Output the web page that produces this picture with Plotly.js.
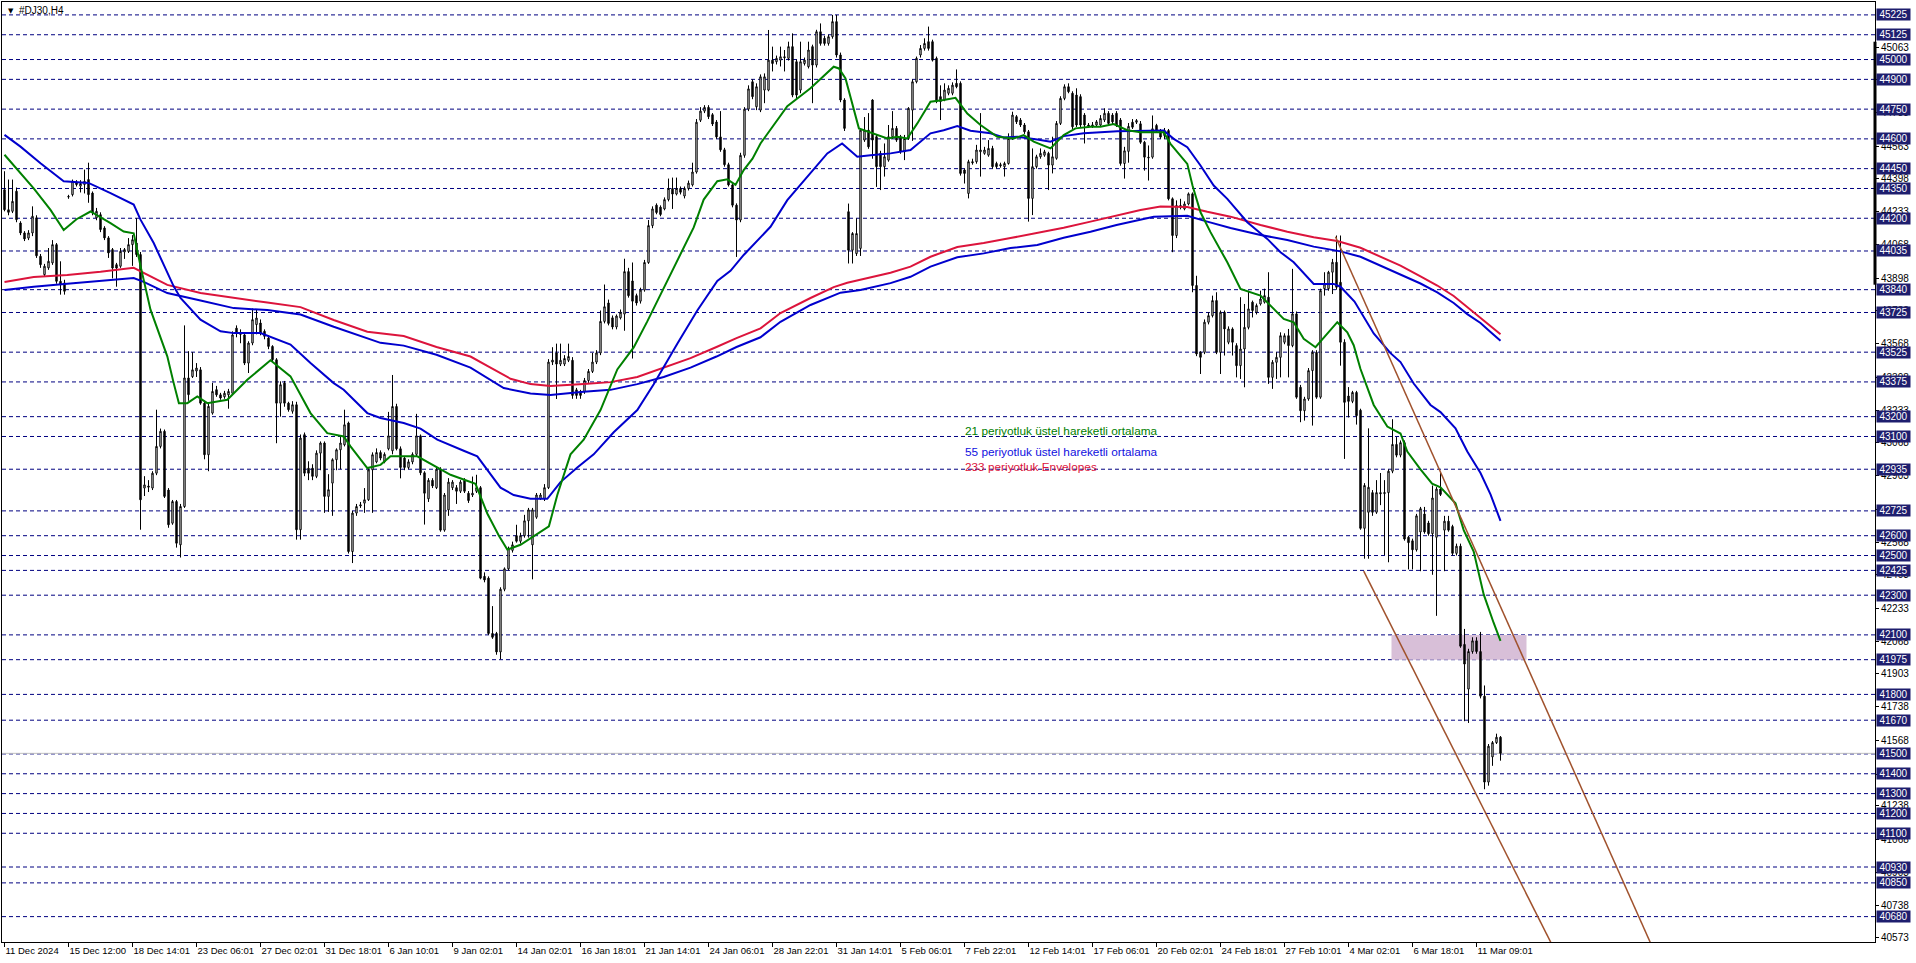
<!DOCTYPE html>
<html><head><meta charset="utf-8">
<script src="https://cdn.plot.ly/plotly-3.0.1.min.js"></script>
<style>html,body{margin:0;padding:0;background:#fff;overflow:hidden}#chart{width:1916px;height:963px}</style>
</head><body><div id="chart"></div>
<script>
const barOpen = [
44344,44243,44235,44336,44176,44126,44100,44126,44202,44008,
43916,43950,43975,44067,43882,43874,44310,44319,44378,44362,
44370,44395,44327,44202,44218,44151,44101,44042,43966,43958,
44030,44033,44067,44075,44017,42840,42850,42840,42915,43050,
43126,42830,42663,42772,42554,42747,43395,43402,43430,43436,
43268,43008,43218,43336,43310,43300,43310,43318,43646,43620,
43612,43470,43571,43664,43672,43630,43596,43554,43487,43268,
43369,43268,43227,43260,42630,43109,42940,42940,42899,43016,
43067,42798,42865,42983,43033,43058,43168,42520,42714,42750,
42764,42781,42932,42972,43019,42972,43038,43028,43251,43038,
42991,42944,42972,43010,43103,42917,42786,42879,42842,42935,
42628,42730,42842,42842,42824,42879,42814,42805,42824,42842,
42395,42386,42107,42107,42014,42330,42433,42526,42600,42572,
42600,42675,42554,42693,42786,42786,42842,43475,43521,43465,
43465,43484,43484,43335,43326,43326,43382,43428,43475,43521,
43680,43773,43698,43652,43698,43717,43931,43884,43810,43782,
43838,43977,44163,44266,44256,44247,44294,44350,44322,44350,
44312,44350,44368,44433,44694,44740,44759,44722,44685,44610,
44545,44470,44368,44266,44191,44517,44750,44888,44762,44745,
44846,44846,44997,44989,44997,45014,45006,45065,44989,44846,
44980,44964,45065,44972,45140,45107,45081,45115,45191,45023,
44796,44233,44039,44022,44048,44594,44644,44796,44611,44527,
44460,44493,44611,44653,44611,44535,44602,44745,44888,45023,
45056,45090,45090,45006,44813,44796,44830,44830,44880,44880,
44443,44325,44485,44485,44535,44527,44518,44552,44476,44470,
44460,44476,44602,44712,44695,44670,44636,44300,44460,44510,
44518,44527,44468,44502,44678,44804,44863,44830,44821,44813,
44720,44670,44665,44670,44670,44695,44729,44720,44729,44695,
44476,44537,44684,44684,44676,44583,44508,44508,44668,44642,
44617,44642,44298,44113,44264,44247,44272,44323,43861,43524,
43524,43676,43709,43785,43524,43726,43575,43642,43558,43457,
43541,43650,43777,43726,43768,43777,43802,43398,43474,43499,
43575,43608,43558,43718,43348,43230,43289,43432,43524,43298,
43845,43845,43928,43978,43877,43575,43304,43277,43322,43232,
42637,42718,42817,42718,42817,42812,42817,42925,43060,43006,
43069,42592,42574,42529,42619,42709,42664,42610,42592,42835,
42628,42673,42646,42511,42547,42052,41827,42016,42070,42016,
41791,41358,41485,41557,41584];
const barHigh = [
44437,44395,44395,44355,44185,44135,44140,44260,44215,44020,
43970,44050,44090,44075,43983,43890,44318,44395,44392,44392,
44445,44480,44335,44252,44230,44160,44110,44050,43975,44050,
44050,44100,44115,44200,44030,42900,42880,42925,43235,43140,
43135,42840,42780,42780,42760,43660,43530,43525,43470,43450,
43280,43265,43370,43355,43320,43330,43340,43630,43660,43640,
43625,43580,43745,43740,43690,43640,43610,43560,43495,43378,
43380,43275,43278,43275,43110,43120,42975,42960,43030,43075,
43075,42910,42990,43040,43100,43235,43175,42725,42760,42770,
42840,42940,43020,43040,43030,43020,43224,43410,43265,43050,
43000,42985,43020,43214,43110,42925,42890,42890,42945,42945,
42815,42890,42880,42855,42880,42890,42825,42898,42907,42850,
42415,42395,42245,42115,42340,42440,42545,42570,42655,42615,
42705,42740,42740,42815,42815,42860,43490,43550,43568,43568,
43510,43568,43500,43345,43335,43395,43440,43521,43535,43735,
43866,43790,43710,43715,43740,43996,43950,43977,43820,43850,
43990,44191,44260,44275,44265,44305,44400,44405,44405,44360,
44360,44390,44480,44700,44760,44770,44770,44730,44695,44740,
44555,44480,44375,44275,44530,44760,44870,44900,44880,44925,
44930,45149,45065,45020,45065,45048,45090,45132,45000,45090,
45010,45090,45075,45150,45182,45120,45125,45225,45225,45035,
44805,44274,44130,44200,44650,44710,44730,44800,44620,44540,
44577,44670,44740,44665,44620,44620,44760,44900,45015,45073,
45107,45166,45100,45015,44870,44880,44870,44885,44950,44890,
44450,44495,44500,44570,44730,44560,44594,44565,44485,44480,
44485,44628,44737,44720,44705,44680,44645,44552,44520,44552,
44545,44535,44611,44690,44815,44875,44880,44840,44855,44825,
44730,44680,44685,44695,44720,44754,44740,44730,44740,44705,
44560,44680,44700,44700,44690,44590,44567,44718,44676,44650,
44655,44650,44305,44290,44298,44285,44330,44330,43910,43530,
43690,43726,43810,43827,43735,43735,43655,43650,43570,43802,
43768,43835,43785,43770,43835,43845,43928,43485,43525,43625,
43620,43642,43945,43730,43360,43300,43445,43535,43535,43845,
43928,43935,43995,44113,44113,43590,43349,43330,43330,43240,
42865,43141,42830,42880,42916,42880,42935,43187,43097,43080,
43080,42600,42585,42710,42745,42745,42675,42853,42845,42916,
42700,42700,42655,42560,42560,42130,42030,42088,42088,42115,
41845,41550,41565,41602,41590];
const barLow = [
44235,44215,44226,44180,44115,44085,44090,44110,44000,43950,
43905,43940,43965,43870,43815,43815,44298,44310,44360,44330,
44325,44278,44215,44190,44130,44090,44000,43897,43855,43950,
43995,44025,43960,44005,42630,42800,42820,42830,42905,43040,
42790,42640,42655,42540,42490,42740,43280,43395,43400,43260,
42985,42925,43210,43300,43285,43290,43240,43310,43600,43570,
43460,43420,43560,43615,43610,43590,43540,43480,43066,43200,
43250,43225,43215,42580,42580,42900,42880,42880,42890,42930,
42715,42720,42700,42930,42935,43050,42510,42462,42700,42740,
42715,42775,42715,42965,42980,42965,43030,43010,43030,42889,
42930,42935,42960,43000,42905,42656,42770,42840,42835,42620,
42620,42700,42830,42760,42815,42815,42765,42795,42815,42380,
42365,42100,42080,42000,41977,42320,42425,42515,42565,42560,
42590,42590,42380,42685,42780,42775,42835,43460,43289,43455,
43455,43475,43290,43290,43290,43315,43370,43420,43465,43510,
43670,43660,43640,43640,43690,43633,43800,43493,43760,43770,
43830,43970,44150,44220,44210,44240,44285,44247,44315,44320,
44300,44340,44360,44425,44685,44730,44700,44665,44600,44535,
44460,44360,44255,44005,44180,44505,44740,44800,44745,44735,
44780,44840,44940,44975,44965,44940,44995,44810,44800,44830,
44970,44955,44780,44960,45070,45070,45070,45105,45010,44785,
44640,43972,43972,44010,44010,44585,44550,44500,44358,44342,
44410,44485,44600,44585,44525,44493,44595,44590,44880,45010,
45045,45045,44990,44780,44695,44790,44820,44820,44855,44415,
44375,44300,44470,44475,44410,44520,44510,44450,44450,44455,
44410,44470,44595,44675,44660,44625,44183,44216,44450,44500,
44510,44342,44426,44495,44670,44795,44830,44650,44660,44660,
44577,44655,44655,44660,44660,44685,44670,44675,44660,44465,
44400,44480,44650,44675,44575,44440,44390,44500,44630,44600,
44600,44290,44029,44100,44245,44240,44265,43827,43505,43415,
43515,43665,43700,43515,43415,43508,43565,43508,43398,43390,
43348,43640,43700,43715,43760,43770,43365,43340,43390,43398,
43565,43398,43550,43290,43172,43180,43280,43155,43290,43290,
43810,43835,43818,43840,43457,42987,43196,43268,43160,42630,
42484,42484,42700,42710,42754,42502,42466,42915,42995,42995,
42575,42430,42430,42520,42421,42610,42600,42403,42196,42800,
42421,42620,42500,42500,42035,41665,41656,42005,42005,41780,
41322,41340,41440,41550,41466];
const barClose = [
44243,44230,44285,44193,44126,44096,44126,44210,44011,43966,
43958,43983,44067,43882,43865,43832,44308,44386,44370,44375,
44386,44319,44227,44235,44143,44101,44025,43949,43949,44033,
44042,44067,44092,44017,42781,42856,42845,42915,43050,43126,
42798,42655,42772,42562,42747,43395,43311,43436,43445,43268,
43008,43252,43327,43310,43294,43318,43327,43612,43620,43615,
43470,43571,43689,43697,43621,43605,43554,43487,43268,43361,
43268,43235,43260,42630,43092,42915,42915,42899,43016,43067,
42798,42832,42983,43033,43067,43159,42520,42714,42747,42755,
42781,42932,43008,43019,42991,43010,43103,43251,43038,42944,
42944,42972,43010,43103,42917,42814,42879,42851,42935,42628,
42805,42870,42870,42824,42870,42824,42777,42814,42842,42386,
42377,42107,42088,42014,42330,42433,42535,42554,42572,42600,
42675,42730,42730,42805,42805,42842,43475,43485,43465,43484,
43493,43503,43307,43307,43307,43382,43428,43475,43521,43680,
43754,43670,43652,43707,43726,43931,43810,43782,43773,43838,
43977,44163,44247,44229,44219,44294,44350,44322,44350,44331,
44350,44377,44433,44684,44740,44759,44712,44675,44610,44545,
44470,44368,44266,44191,44517,44750,44852,44813,44863,44913,
44913,44997,44980,45006,45014,45010,45065,44821,44821,44989,
44997,45048,44972,45140,45081,45081,45115,45191,45023,44796,
44653,44039,44123,44123,44644,44644,44560,44594,44460,44460,
44510,44611,44653,44594,44535,44602,44754,44888,45006,45056,
45081,45056,44997,44788,44788,44846,44855,44871,44863,44426,
44426,44485,44480,44544,44544,44544,44552,44460,44460,44465,
44476,44602,44720,44686,44670,44636,44300,44460,44510,44527,
44535,44468,44510,44678,44804,44863,44838,44661,44670,44670,
44670,44665,44670,44686,44703,44729,44678,44686,44670,44476,
44540,44663,44659,44692,44583,44508,44505,44651,44642,44609,
44642,44298,44113,44264,44256,44272,44323,43861,43516,43499,
43676,43709,43785,43524,43726,43642,43642,43575,43457,43541,
43650,43743,43735,43760,43793,43810,43398,43474,43499,43608,
43608,43558,43718,43298,43230,43289,43432,43524,43298,43835,
43869,43928,43978,43852,43575,43272,43277,43322,43205,42637,
42853,42844,42718,42817,42812,42817,42925,43060,43006,43069,
42583,42565,42529,42700,42736,42619,42610,42790,42835,42808,
42673,42628,42511,42547,42043,41953,42016,42070,42016,41791,
41358,41539,41557,41584,41503];

const xTickBars = [0,16,32,48,64,80,96,112,128,144,160,176,192,208,224,240,256,272,288,304,320,336,352,368];
const xTickLabels = ["11 Dec 2024","15 Dec 12:00","18 Dec 14:01","23 Dec 06:01","27 Dec 02:01","31 Dec 18:01","6 Jan 10:01","9 Jan 02:01","14 Jan 02:01","16 Jan 18:01","21 Jan 14:01","24 Jan 06:01","28 Jan 22:01","31 Jan 14:01","5 Feb 06:01","7 Feb 22:01","12 Feb 14:01","17 Feb 06:01","20 Feb 02:01","24 Feb 18:01","27 Feb 10:01","4 Mar 02:01","6 Mar 18:01","11 Mar 09:01"];
const priceTicks = [45063,44898,44733,44563,44398,44233,44068,43898,43733,43568,43398,43233,43068,42903,42733,42568,42403,42233,42068,41903,41738,41568,41398,41238,41068,40903,40738,40573];
const levelPrices = [45225,45125,45000,44900,44750,44600,44450,44350,44200,44035,43840,43725,43525,43375,43200,43100,42935,42725,42600,42500,42425,42300,42100,41975,41800,41670,41500,41400,41300,41200,41100,40930,40850,40680];

const ema21Bars = [0,7.3,11.5,14.8,18,21.5,26.5,29.8,32.3,34,36.5,39,40.7,42.3,43.6,45.7,48.2,50.7,55.7,60.7,66.5,71.5,76.5,80.7,84.8,86.5,90.7,94,96.5,103.2,108.2,111.5,117.75,120.7,123.6,125.7,129,133.2,136.1,138.2,141.5,144.8,149,153.2,157.3,160.7,164.8,169.8,172.3,174.8,178.2,180.7,182.75,184.8,187,189,195.7,201.5,207.3,208.6,210.25,213.6,217.3,220.7,223.2,225.7,228.2,231.5,234.8,237.75,240.7,244,248.2,252.3,254.8,257.3,261.5,264.8,267.75,271.5,274,277.3,280.7,284,289.8,291.5,295.7,297,299,301.5,305.7,309,314,316.5,319.8,322.3,324.8,327.75,330.7,333.2,335.7,337.3,339,342.3,345.7,349,350.7,354,356.9,359,362.75,364.8,367.3,369.8,372.3,374];
const ema21Vals = [44520,44351,44242,44141,44195,44234,44175,44133,44124,43960,43739,43605,43504,43369,43268,43268,43302,43268,43285,43386,43484,43403,43218,43117,43100,43050,42941,42957,43000,43000,42945,42907,42861,42712,42600,42530,42554,42610,42647,42805,43010,43084,43233,43438,43549,43680,43847,44052,44154,44294,44387,44396,44368,44443,44500,44577,44765,44855,44964,44955,44905,44653,44628,44602,44611,44602,44678,44787,44796,44807,44728,44670,44611,44602,44619,44586,44552,44619,44653,44661,44661,44675,44644,44634,44634,44575,44474,44365,44230,44130,43978,43844,43810,43760,43693,43676,43592,43550,43617,43676,43625,43560,43440,43259,43150,43115,43024,42934,42862,42844,42763,42628,42520,42304,42160,42070];

const ema55Bars = [0,4,9,14.8,21,26.5,32.3,34,37.3,42.3,44,49,54,57.3,64,71.5,76.5,82.3,84.8,90.7,94,99.8,104,108.2,114.8,118.2,124,127.3,131.5,135.7,139,143.2,147.3,152.3,158.2,162.3,168.2,173.2,178.2,181.5,184.8,187,191.5,195.7,200.7,205.7,209.4,213.2,216.5,221.5,226.5,231.5,234.8,238.2,241.5,246.5,249.8,253.2,258.2,261.5,264.8,269.8,278.2,289.8,292.3,295.7,299,302.3,305.7,310.7,315.7,319,322.3,327.3,332.3,334,337.5,342.3,346.5,349,352.3,356.5,359,362.75,365.7,369,371.5,374];
const ema55Vals = [44620,44561,44477,44386,44378,44327,44269,44193,44075,43857,43798,43689,43630,43621,43621,43563,43470,43369,43336,43218,43193,43168,43140,43084,43028,43000,42842,42805,42786,42786,42870,42944,43010,43121,43233,43363,43568,43735,43884,43935,44015,44060,44157,44291,44409,44527,44577,44510,44518,44527,44544,44628,44644,44665,44641,44628,44607,44611,44597,44586,44614,44628,44639,44642,44600,44558,44466,44365,44298,44180,44096,44029,43978,43869,43869,43855,43780,43619,43520,43475,43367,43259,43223,43141,43024,42916,42808,42675];

const envUpBars = [0,7.3,15.7,24,32.3,34.8,40.7,49,57.3,65.7,74,82.3,90.7,99.8,108,116.5,120.7,126.5,131.5,136.5,144.8,151.5,158.2,164.8,171.5,178,183,189,194,201.5,207.3,210.7,215.7,221.5,226.5,231.5,238.2,244.8,251.5,258.2,264.8,271.5,278,284,289,295.7,300.7,306.5,314,320.7,327.3,333.2,339,344,349,354,358.2,362.3,365.7,369,371.5,374];
const envUpVals = [43879,43904,43914,43930,43950,43924,43864,43823,43798,43775,43752,43687,43628,43606,43551,43503,43456,43391,43364,43354,43364,43374,43400,43447,43495,43551,43596,43645,43722,43798,43853,43875,43899,43925,43956,44006,44055,44075,44100,44125,44152,44183,44212,44242,44259,44257,44233,44208,44166,44132,44104,44085,44051,44006,43961,43907,43861,43808,43753,43700,43655,43615];
const envLoBars = [0,7.3,15.7,32.3,34.8,40.7,49,57.3,65.7,74,82.3,90.7,94,99.8,108,116.5,124.8,131.5,136.5,144.8,151.5,158.2,164.8,171.5,178,183,189,194,201.5,209,214,221.5,226.5,231.5,238.2,244.8,251.5,258.2,264.8,271.5,278,287.3,295.7,300.7,306.5,314,320.7,327.3,334,339,344,349,354,358.2,362.3,365.7,369,371.5,374];
const envLoVals = [43838,43855,43870,43899,43879,43823,43785,43747,43737,43715,43653,43596,43572,43558,43512,43447,43344,43317,43309,43326,43335,43364,43400,43447,43503,43551,43600,43678,43763,43825,43838,43873,43905,43956,44003,44023,44050,44065,44102,44132,44166,44208,44212,44183,44151,44116,44090,44057,44033,44006,43961,43916,43871,43826,43773,43717,43672,43627,43582];

const channelUpperBars = [332.75, 420];
const channelUpperPrices = [44107, 40163];
const channelLowerBars = [339.8, 395];
const channelLowerPrices = [42421, 40213];
const zoneBars = [346.75, 380.5];
const zonePrices = [41975, 42100];
const scaleMarkPrices = [43865, 45090];

const legendTexts = ["21 periyotluk üstel hareketli ortalama","55 periyotluk üstel hareketli ortalama","233 periyotluk Envelopes"];

const FONT = "Liberation Sans, Arial, sans-serif";
const GREEN = "#008000", BLUE = "#0000CD", RED = "#DC143C", NAVY = "#000080", BROWN = "#A0522D";

const barIndex = barOpen.map((_, i) => i);

const traces = [
  {type:'candlestick', x:barIndex, open:barOpen, high:barHigh, low:barLow, close:barClose,
   increasing:{line:{color:'#000000', width:1}, fillcolor:'#ffffff'},
   decreasing:{line:{color:'#000000', width:1}, fillcolor:'#000000'},
   whiskerwidth:0, hoverinfo:'skip', showlegend:false},
  {type:'scatter', mode:'lines', x:envLoBars, y:envLoVals, line:{color:BLUE, width:2}, hoverinfo:'skip', showlegend:false},
  {type:'scatter', mode:'lines', x:envUpBars, y:envUpVals, line:{color:RED, width:2}, hoverinfo:'skip', showlegend:false},
  {type:'scatter', mode:'lines', x:ema55Bars, y:ema55Vals, line:{color:BLUE, width:2}, hoverinfo:'skip', showlegend:false},
  {type:'scatter', mode:'lines', x:ema21Bars, y:ema21Vals, line:{color:GREEN, width:2}, hoverinfo:'skip', showlegend:false},
  {type:'scatter', mode:'lines', x:channelUpperBars, y:channelUpperPrices, line:{color:BROWN, width:1.5}, hoverinfo:'skip', showlegend:false},
  {type:'scatter', mode:'lines', x:channelLowerBars, y:channelLowerPrices, line:{color:BROWN, width:1.5}, hoverinfo:'skip', showlegend:false}
];

const shapes = [];
levelPrices.forEach(p => shapes.push({type:'line', xref:'paper', x0:0, x1:1, yref:'y', y0:p, y1:p, layer:'below', line:{color:NAVY, width:1, dash:'4px,3px'}}));
shapes.push({type:'rect', xref:'x', yref:'y', x0:zoneBars[0], x1:zoneBars[1], y0:zonePrices[0], y1:zonePrices[1], layer:'below', fillcolor:'#D8BFD8', line:{width:0}});
const lastClose = barClose[barClose.length-1];
shapes.push({type:'line', xref:'paper', x0:0, x1:1, yref:'y', y0:lastClose, y1:lastClose, layer:'below', line:{color:'#C0C0C0', width:1}});
shapes.push({type:'line', xref:'paper', x0:1, x1:1, yref:'y', y0:scaleMarkPrices[0], y1:scaleMarkPrices[1], line:{color:'#000000', width:3}});

const annotations = [];
levelPrices.forEach(p => annotations.push({xref:'paper', x:1, xanchor:'left', xshift:1, yref:'y', y:p, yanchor:'middle',
  text:String(p), showarrow:false, bgcolor:'#1E1E6E', font:{family:FONT, size:10, color:'#ffffff'}, width:33, height:11, borderpad:0, align:'center'}));
annotations.push({xref:'paper', yref:'paper', x:0, y:1, xanchor:'left', yanchor:'top', xshift:4, yshift:-3, text:'▼', showarrow:false, font:{family:'DejaVu Sans', size:7, color:'#000'}});
annotations.push({xref:'paper', yref:'paper', x:0, y:1, xanchor:'left', yanchor:'top', xshift:15, yshift:-1, text:'#DJ30,H4', showarrow:false, font:{family:FONT, size:10, color:'#000'}});
const legendColors = [GREEN, '#1010E0', RED];
const legendY = [0.5436, 0.5213, 0.5053];
legendTexts.forEach((t, i) => annotations.push({xref:'paper', yref:'paper', x:0.5131, y:legendY[i], xanchor:'left', yanchor:'middle', text:t, showarrow:false, font:{family:FONT, size:11.8, color:legendColors[i]}}));

const layout = {
  width:1916, height:963,
  margin:{l:2, r:41, t:2, b:21, pad:0},
  paper_bgcolor:'#ffffff', plot_bgcolor:'#ffffff',
  showlegend:false,
  boxgap:0.5,
  xaxis:{type:'linear', range:[-0.625, 467.625], tickvals:xTickBars, ticktext:xTickLabels, ticks:'outside', ticklen:4, tickcolor:'#000',
    tickangle:0, ticklabelposition:'outside right', showgrid:false, zeroline:false, showline:true, linecolor:'#000', linewidth:1, mirror:true,
    tickfont:{family:FONT, size:9.5, color:'#000'}, rangeslider:{visible:false}, fixedrange:true},
  yaxis:{type:'linear', side:'right', range:[40552, 45290], tickvals:priceTicks, ticktext:priceTicks.map(String), ticks:'outside', ticklen:3, tickcolor:'#000',
    showgrid:false, zeroline:false, showline:true, linecolor:'#000', linewidth:1, mirror:true,
    tickfont:{family:FONT, size:10, color:'#000'}, fixedrange:true},
  shapes:shapes, annotations:annotations
};
Plotly.newPlot('chart', traces, layout, {staticPlot:true, displayModeBar:false});
</script>
</body></html>
